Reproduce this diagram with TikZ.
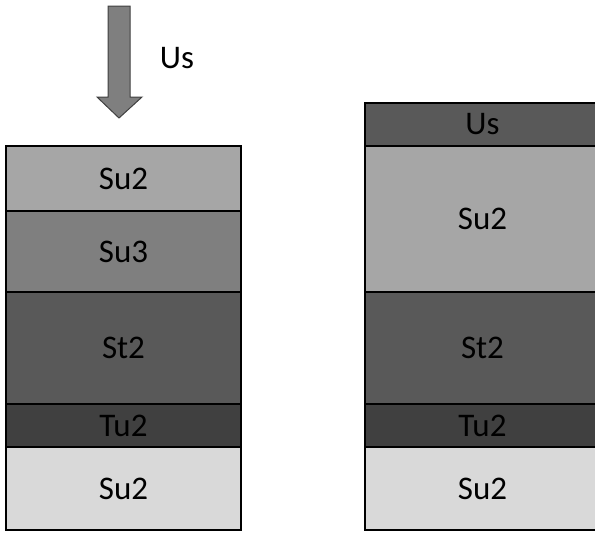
\documentclass[tikz,border=0pt]{standalone}
\usepackage{fontspec}
\setmainfont{Carlito}
\usetikzlibrary{positioning}

\definecolor{gA}{HTML}{A6A6A6}
\definecolor{gB}{HTML}{7F7F7F}
\definecolor{gC}{HTML}{595959}
\definecolor{gD}{HTML}{404040}
\definecolor{gE}{HTML}{D9D9D9}

\begin{document}
\begin{tikzpicture}[x=1pt, y=-1pt, node distance=0pt,
            every node/.style={font=\fontsize{33}{38}\selectfont, inner sep=0pt},
            layer/.style={draw, line width=1.2pt, outer sep=0pt, minimum width=235pt}]
        \useasboundingbox (0,0) rectangle (595,533);
        % load arrow
        \draw[line width=1pt, draw=gD, fill=gB] (108,6) -- (130,6) -- (130,97) -- (142,97)
              -- (119,118) -- (97,97) -- (108,97) -- cycle;
        \node (load) at (177,58) {Us};
        % before
        \node[layer, fill=gA, minimum height=65pt, anchor=north west] (a1) at (6,146) {Su2};
        \node[layer, fill=gB, minimum height=81pt, below=of a1] (a2) {Su3};
        \node[layer, fill=gC, minimum height=112pt, below=of a2] (a3) {St2};
        \node[layer, fill=gD, minimum height=43pt, below=of a3] (a4) {Tu2};
        \node[layer, fill=gE, minimum height=83pt, below=of a4] (a5) {Su2};
        % after
        \node[layer, fill=gC, minimum height=43pt, anchor=north west] (b0) at (365,103) {Us};
        \node[layer, fill=gA, minimum height=146pt, below=of b0] (b1) {Su2};
        \node[layer, fill=gC, minimum height=112pt, below=of b1] (b2) {St2};
        \node[layer, fill=gD, minimum height=43pt, below=of b2] (b3) {Tu2};
        \node[layer, fill=gE, minimum height=83pt, below=of b3] (b4) {Su2};
\end{tikzpicture}
\end{document}
